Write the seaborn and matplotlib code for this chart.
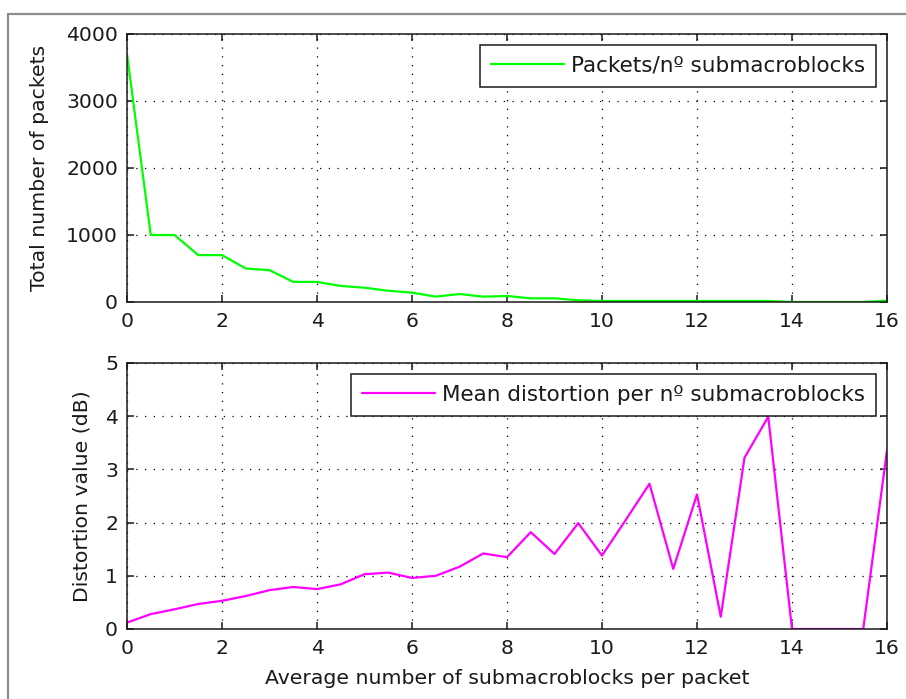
import matplotlib
matplotlib.use("Agg")
import matplotlib.pyplot as plt
from matplotlib.lines import Line2D
import seaborn as sns
import pandas as pd

# ---- data ----
submb = [0, 0.5, 1, 1.5, 2, 2.5, 3, 3.5, 4, 4.5, 5, 5.5, 6, 6.5, 7, 7.5,
         8, 8.5, 9, 9.5, 10, 10.5, 11, 11.5, 12, 12.5, 13, 13.5, 14, 14.5,
         15, 15.5, 16]
packets = [3700, 1000, 1000, 700, 700, 500, 475, 300, 300, 240, 213, 168,
           140, 80, 119, 80, 90, 55, 55, 25, 15, 15, 15, 15, 15, 15, 15, 15,
           0, 0, 0, 0, 20]
distortion = [0.12, 0.28, 0.37, 0.47, 0.53, 0.62, 0.73, 0.79, 0.75, 0.84,
              1.03, 1.06, 0.96, 1.0, 1.17, 1.42, 1.35, 1.82, 1.41, 1.99,
              1.38, 2.05, 2.73, 1.13, 2.53, 0.23, 3.22, 3.99, 0, 0, 0, 0,
              3.36]
xticks = [0, 2, 4, 6, 8, 10, 12, 14, 16]
yticks_top = [0, 1000, 2000, 3000, 4000]
yticks_bot = [0, 1, 2, 3, 4, 5]

label_top = "Packets/nº submacroblocks"
label_bot = "Mean distortion per nº submacroblocks"
ylabel_top = "Total number of packets"
ylabel_bot = "Distortion value (dB)"
xlabel = "Average number of submacroblocks per packet"

df = pd.DataFrame({"x": submb, "packets": packets, "distortion": distortion})

sns.set_theme(style="white")
plt.rcParams["font.family"] = ["DejaVu Sans"]
FS = 14.7
LFS = 15.5
plt.rcParams["font.size"] = FS

W, H = 906, 699
fig = plt.figure(figsize=(W / 100, H / 100), dpi=100)
fig.patch.set_facecolor("white")

def px_axes(l, t, r, b):
    return fig.add_axes([l / W, 1 - b / H, (r - l) / W, (b - t) / H])

ax1 = px_axes(127, 34, 887, 302)
ax2 = px_axes(127, 363, 887, 629)

grid_style = dict(color="black", linestyle=(0, (1, 6)), linewidth=0.9)
INK = "#1a1a1a"

def style_axes(ax, yticks, ylim):
    ax.set_xlim(0, 16)
    ax.set_ylim(*ylim)
    ax.set_xticks(xticks)
    ax.set_yticks(yticks)
    ax.set_facecolor("white")
    ax.grid(True, **grid_style)
    ax.set_axisbelow(False)
    for s in ax.spines.values():
        s.set_visible(True)
        s.set_color(INK)
        s.set_linewidth(1.1)
        s.set_zorder(5)
    ax.tick_params(direction="in", length=5, width=1.1, color=INK,
                   top=True, right=True, bottom=True, left=True,
                   labelsize=FS, labelcolor=INK)
    ax.tick_params(axis="x", pad=7.5)
    ax.tick_params(axis="y", pad=6.5)

sns.lineplot(data=df, x="x", y="packets", ax=ax1, color="#00ff00",
             linewidth=1.6, label=label_top, zorder=3)
sns.lineplot(data=df, x="x", y="distortion", ax=ax2, color="#ff00ff",
             linewidth=1.6, label=label_bot, zorder=3)

style_axes(ax1, yticks_top, (0, 4000))
style_axes(ax2, yticks_bot, (0, 5))

ax1.set_xlabel("")
ax2.set_xlabel(xlabel, fontsize=FS, color=INK, va="top")
ax2.xaxis.set_label_coords(0.5, -(669 - 629) / 266)
ax1.set_ylabel(ylabel_top, fontsize=FS, color=INK, va="center")
ax1.yaxis.set_label_coords((40 - 127) / 760, 0.5)
ax2.set_ylabel(ylabel_bot, fontsize=FS, color=INK, va="center")
ax2.yaxis.set_label_coords((82 - 127) / 760, 0.5)

for ax in (ax1, ax2):
    leg = ax.legend(loc="upper right", fontsize=LFS, frameon=True,
                    fancybox=False, framealpha=1, edgecolor=INK,
                    handlelength=3.4, borderaxespad=0.52, borderpad=0.5,
                    handletextpad=0.33)
    leg.get_frame().set_linewidth(1.1)
    leg.set_zorder(10)
    for t in leg.get_texts():
        t.set_color(INK)

# grey window frame seen at top and left of the screenshot
fig.add_artist(Line2D([8 / W, 1], [1 - 14 / H, 1 - 14 / H],
                      transform=fig.transFigure, color="#8c8c8c", lw=1.6))
fig.add_artist(Line2D([8 / W, 8 / W], [0, 1 - 14 / H],
                      transform=fig.transFigure, color="#8c8c8c", lw=1.6))

fig.savefig("out.png", dpi=100, facecolor="white")
